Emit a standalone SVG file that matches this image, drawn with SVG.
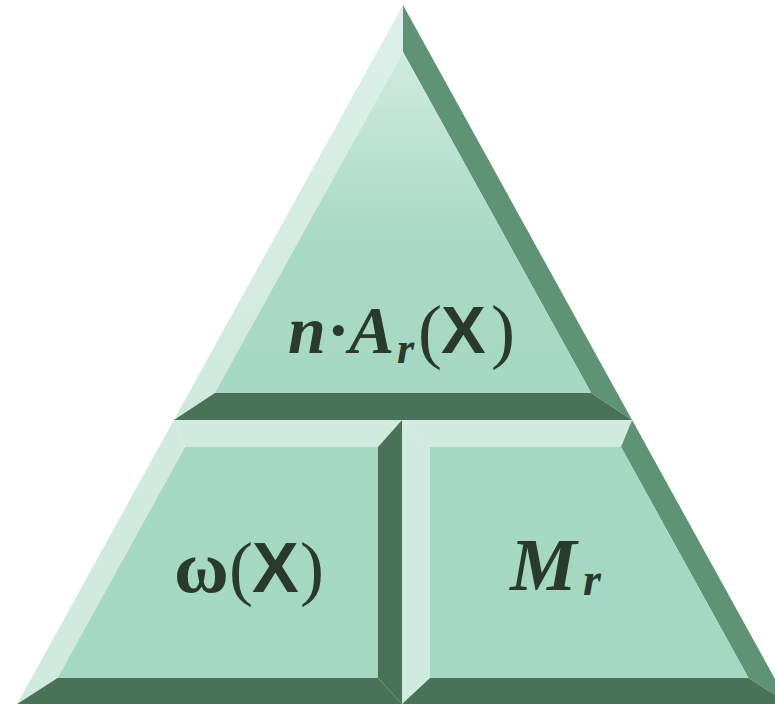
<svg xmlns="http://www.w3.org/2000/svg" width="775" height="704" viewBox="0 0 775 704">
  <defs>
    <linearGradient id="topFace" x1="0" y1="52" x2="0" y2="393" gradientUnits="userSpaceOnUse">
      <stop offset="0" stop-color="#d0ebe0"/>
      <stop offset="0.55" stop-color="#a8d9c5"/>
      <stop offset="1" stop-color="#a5d8c2"/>
    </linearGradient>
    <linearGradient id="topLeft" x1="0" y1="5" x2="0" y2="420" gradientUnits="userSpaceOnUse">
      <stop offset="0" stop-color="#dcf0e8"/>
      <stop offset="1" stop-color="#cfe9de"/>
    </linearGradient>
  </defs>
  <style>
    .face { fill: #a5d8c2; }
    .light { fill: #d0eadf; }
    .mid { fill: #5e9475; }
    .dark { fill: #4a7259; }
    .t { fill: #2a3a2f; font-family: "Liberation Serif", "Times New Roman", serif; }
    .bi { font-weight: bold; font-style: italic; }
    .b { font-weight: bold; }
    .sx { font-family: "Liberation Sans", Arial, sans-serif; font-weight: bold; font-style: normal; }
  </style>
  <rect width="775" height="704" fill="#ffffff"/>

  <g id="node-top">
    <polygon fill="url(#topLeft)" points="403,5 403,52 214.8,393 173.9,420"/>
    <polygon class="mid" points="403,5 632.1,420 591.2,393 403,52"/>
    <polygon class="dark" points="173.9,420 214.8,393 591.2,393 632.1,420"/>
    <polygon fill="url(#topFace)" points="403,52 591.2,393 214.8,393"/>
    <text class="t" y="353" font-size="68"><tspan class="bi" x="288">n</tspan><tspan class="b" x="327">·</tspan><tspan class="bi" x="349">A</tspan><tspan class="bi" x="397" y="363" font-size="44">r</tspan><tspan x="418" y="355" font-size="72">(</tspan><tspan class="sx" x="441" y="353" font-size="67">X</tspan><tspan x="491" y="355" font-size="72">)</tspan></text>
  </g>

  <g id="node-left">
    <polygon class="light" points="173.9,420 402,420 378,447 185,447"/>
    <polygon class="light" points="173.9,420 185,447 57.5,678 17.2,704"/>
    <polygon class="dark" points="402,420 402,704 378,678 378,447"/>
    <polygon class="dark" points="17.2,704 57.5,678 378,678 402,704"/>
    <polygon class="face" points="185,447 378,447 378,678 57.5,678"/>
    <text class="t" y="592" font-size="72"><tspan class="b" x="174" font-size="75">ω</tspan><tspan x="229">(</tspan><tspan class="sx" x="252" font-size="70">X</tspan><tspan x="300">)</tspan></text>
  </g>

  <g id="node-right">
    <polygon class="light" points="402,420 632.1,420 621,447 430,447"/>
    <polygon class="light" points="402,420 430,447 430,678 402,704"/>
    <polygon class="mid" points="632.1,420 788.8,704 748.5,678 621,447"/>
    <polygon class="dark" points="402,704 430,678 748.5,678 788.8,704"/>
    <polygon class="face" points="430,447 621,447 748.5,678 430,678"/>
    <text class="t bi" y="590" font-size="75"><tspan x="510">M</tspan><tspan x="583" y="595" font-size="46">r</tspan></text>
  </g>
</svg>
